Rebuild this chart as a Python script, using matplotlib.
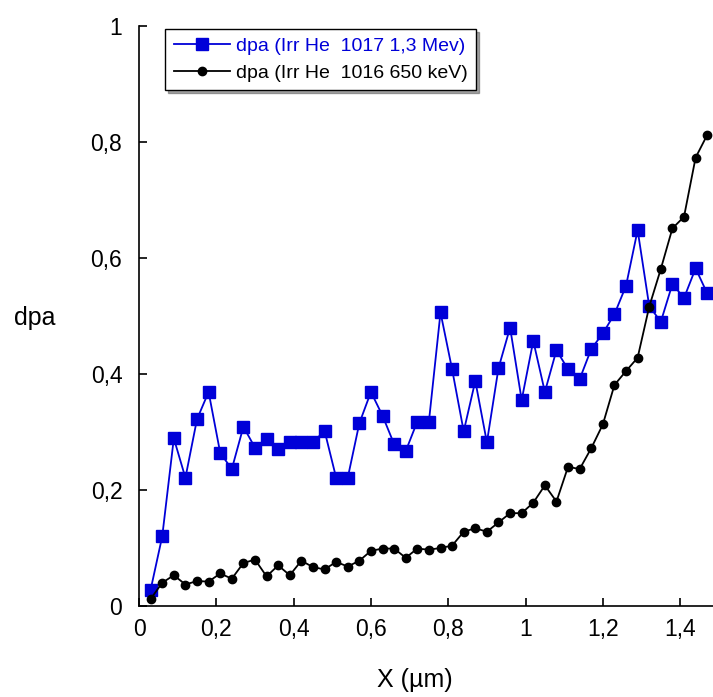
import matplotlib
matplotlib.use("Agg")
import matplotlib.pyplot as plt

plt.rcParams['font.family'] = ['Liberation Sans', 'DejaVu Sans']

# depth (um)
x = [0.03, 0.06, 0.09, 0.12, 0.15, 0.18, 0.21, 0.24, 0.27, 0.30,
     0.33, 0.36, 0.39, 0.42, 0.45, 0.48, 0.51, 0.54, 0.57, 0.60,
     0.63, 0.66, 0.69, 0.72, 0.75, 0.78, 0.81, 0.84, 0.87, 0.90,
     0.93, 0.96, 0.99, 1.02, 1.05, 1.08, 1.11, 1.14, 1.17, 1.20,
     1.23, 1.26, 1.29, 1.32, 1.35, 1.38, 1.41, 1.44, 1.47]

# dpa, Irr He 1017 1,3 MeV
dpa_1017 = [0.028, 0.120, 0.289, 0.221, 0.322, 0.369, 0.264, 0.236, 0.309, 0.273,
            0.287, 0.271, 0.282, 0.282, 0.282, 0.302, 0.221, 0.221, 0.315, 0.369,
            0.328, 0.279, 0.267, 0.318, 0.318, 0.506, 0.408, 0.301, 0.388, 0.282,
            0.410, 0.480, 0.355, 0.457, 0.369, 0.441, 0.408, 0.391, 0.443, 0.470,
            0.503, 0.552, 0.648, 0.517, 0.490, 0.555, 0.531, 0.582, 0.539]

# dpa, Irr He 1016 650 keV
dpa_1016 = [0.012, 0.040, 0.053, 0.037, 0.043, 0.042, 0.056, 0.047, 0.074, 0.080,
            0.051, 0.070, 0.053, 0.078, 0.067, 0.063, 0.076, 0.068, 0.078, 0.095,
            0.099, 0.099, 0.083, 0.099, 0.097, 0.100, 0.104, 0.128, 0.134, 0.128,
            0.144, 0.160, 0.160, 0.178, 0.208, 0.180, 0.240, 0.236, 0.272, 0.313,
            0.381, 0.405, 0.428, 0.516, 0.581, 0.651, 0.671, 0.773, 0.812]

xticks = [0, 0.2, 0.4, 0.6, 0.8, 1.0, 1.2, 1.4]
xticklabels = ["0", "0,2", "0,4", "0,6", "0,8", "1", "1,2", "1,4"]
yticks = [0, 0.2, 0.4, 0.6, 0.8, 1.0]
yticklabels = ["0", "0,2", "0,4", "0,6", "0,8", "1"]

fig = plt.figure(figsize=(7.13, 6.97), dpi=100)
ax = fig.add_axes([0.195, 0.1306, 0.805, 0.8322])

blue = '#0000d8'
ax.plot(x, dpa_1017, color=blue, lw=1.3, marker='s', ms=8.5,
        mfc=blue, mec=blue, label="dpa (Irr He  1017 1,3 Mev)")
ax.plot(x, dpa_1016, color='black', lw=1.3, marker='o', ms=6,
        mfc='black', mec='black', label="dpa (Irr He  1016 650 keV)")

ax.set_xlim(0, 1.485)
ax.set_ylim(0, 1)
ax.spines['top'].set_visible(False)
ax.spines['right'].set_visible(False)
ax.spines['left'].set_linewidth(1.2)
ax.spines['bottom'].set_linewidth(1.2)

ax.set_xticks(xticks)
ax.set_xticklabels(xticklabels)
ax.set_yticks(yticks)
ax.set_yticklabels(yticklabels)
ax.tick_params(direction='in', length=6, width=1.2, labelsize=16.5)
ax.tick_params(axis='x', pad=9)
ax.tick_params(axis='y', pad=12)

ax.set_xlabel("X (µm)", fontsize=18, va='center')
ax.xaxis.set_label_coords(0.48, -0.128)
ax.set_ylabel("dpa", fontsize=18, rotation=0, ha='center', va='center')
ax.yaxis.set_label_coords(-0.181, 0.497)

leg = ax.legend(loc='upper left', bbox_to_anchor=(0.045, 0.995), borderaxespad=0,
                fontsize=14, frameon=True, fancybox=False, shadow=True,
                edgecolor='black', handlelength=2.9, handletextpad=0.3,
                labelspacing=0.45, borderpad=0.45)
leg.get_frame().set_linewidth(1.0)
leg.get_texts()[0].set_color(blue)

fig.savefig("out.png", dpi=100)
